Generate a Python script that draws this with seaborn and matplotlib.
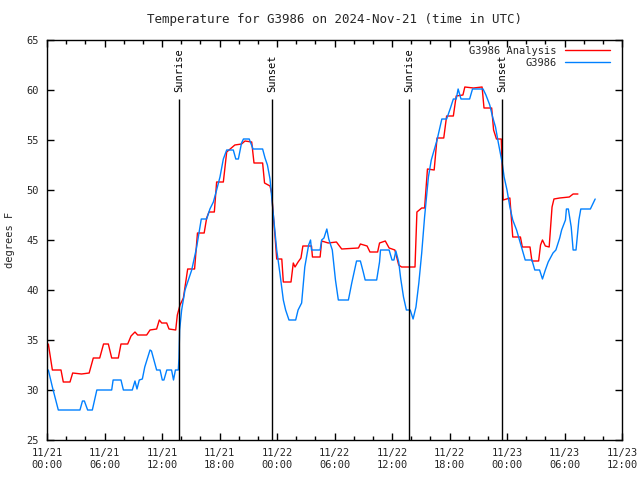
import matplotlib
matplotlib.use("Agg")
import matplotlib.pyplot as plt
import matplotlib.dates as mdates
import seaborn as sns
import pandas as pd

# hours since 2024-11-21 00:00 UTC
analysis_hours = [0.14, 0.56, 1.46, 1.7, 2.4, 2.68, 3.6, 4.4, 4.83, 5.5, 5.9, 6.4, 6.75, 7.44,
                  7.72, 8.42, 8.77, 9.18, 9.46, 10.4, 10.75, 11.44, 11.72, 11.97, 12.49, 12.73,
                  13.43, 13.6, 13.88, 14.23, 14.68, 15.4, 15.7, 16.4, 16.66, 16.9, 17.46, 17.7,
                  18.4, 18.75, 19.6, 20.3, 20.66, 21.36, 21.6, 22.5, 22.7, 23.27, 23.44, 23.6,
                  23.8, 23.97, 24.5, 24.66, 25.46, 25.7, 25.88, 26.2, 26.5, 26.7, 27.6, 27.7,
                  28.5, 28.66, 29.35, 30.2, 30.75, 32.5, 32.7, 33.4, 33.7, 34.5, 34.7, 35.3,
                  35.7, 36.3, 36.7, 37.0, 38.4, 38.6, 39.1, 39.4, 39.7, 40.4, 40.7, 41.4, 41.7,
                  42.4, 42.7, 43.4, 43.6, 44.5, 45.4, 45.6, 46.4, 46.6, 46.9, 47.4, 47.6, 48.3,
                  48.6, 49.4, 49.6, 50.4, 50.6, 51.3, 51.5, 51.7, 52.0, 52.4, 52.7, 52.9, 53.5,
                  54.5, 54.9, 55.4]
analysis_temp = [34.6, 32.0, 32.0, 30.8, 30.8, 31.7, 31.6, 31.7, 33.2, 33.2, 34.6, 34.6, 33.2, 33.2,
                 34.6, 34.6, 35.4, 35.8, 35.5, 35.5, 36.0, 36.1, 37.0, 36.7, 36.7, 36.1,
                 36.0, 37.5, 38.5, 39.2, 42.1, 42.1, 45.7, 45.7, 47.2, 47.8, 47.8, 50.8,
                 50.8, 53.8, 54.5, 54.6, 54.9, 54.8, 52.7, 52.7, 50.7, 50.4, 49.7, 47.7,
                 45.3, 43.1, 43.1, 40.8, 40.8, 42.7, 42.3, 42.8, 43.2, 44.4, 44.4, 43.3,
                 43.3, 44.9, 44.7, 44.8, 44.1, 44.2, 44.6, 44.4, 43.8, 43.8, 44.7, 44.9,
                 44.2, 44.0, 42.5, 42.3, 42.3, 47.8, 48.2, 48.2, 52.1, 52.0, 55.2, 55.2, 57.4,
                 57.4, 59.4, 59.5, 60.3, 60.2, 60.3, 58.2, 58.2, 56.0, 55.1, 55.1, 49.0, 49.2,
                 45.3, 45.3, 44.3, 44.3, 42.9, 42.9, 44.5, 45.0, 44.4, 44.3, 48.3, 49.1, 49.2,
                 49.3, 49.6, 49.6]

obs_hours = [0.14, 0.56, 1.18, 3.44, 3.7, 3.9, 4.24, 4.73, 5.2, 6.75, 6.9, 7.72, 7.97, 8.9,
             9.18, 9.39, 9.63, 9.95, 10.2, 10.75, 10.9, 11.44, 11.8, 12.03, 12.2, 12.5, 13.0,
             13.2, 13.4, 13.7, 13.77, 13.84, 14.05, 14.4, 14.75, 15.1, 15.6, 16.1, 16.66,
             17.0, 17.36, 17.7, 18.05, 18.4, 18.75, 19.44, 19.7, 19.97, 20.3, 20.5, 21.1,
             21.5, 22.5, 22.75, 23.0, 23.27, 23.5, 23.7, 23.97, 24.3, 24.66, 24.9, 25.25,
             25.95, 26.2, 26.57, 26.9, 27.3, 27.5, 27.6, 28.5, 28.66, 28.9, 29.2, 29.4,
             29.77, 30.1, 30.4, 31.45, 31.8, 32.3, 32.7, 33.0, 33.2, 34.4, 34.7, 34.8, 35.7,
             36.0, 36.2, 36.4, 36.7, 36.9, 37.2, 37.5, 37.9, 38.2, 38.5, 38.8, 39.1, 39.4,
             39.8, 40.1, 40.7, 41.2, 41.7, 42.1, 42.4, 42.7, 42.9, 43.2, 44.1, 44.4, 45.5,
             45.8, 46.2, 46.5, 46.8, 47.1, 47.5, 47.7, 48.0, 48.3, 48.6, 49.0, 49.3, 49.6,
             49.9, 50.6, 50.9, 51.4, 51.7, 52.0, 52.3, 52.8, 53.1, 53.5, 53.7, 54.1, 54.2,
             54.4, 54.7, 54.9, 55.2, 55.5, 55.7, 56.7, 57.2]
obs_temp = [32.0, 30.3, 28.0, 28.0, 28.9, 28.9, 28.0, 28.0, 30.0, 30.0, 31.0, 31.0, 30.0, 30.0,
            30.9, 30.1, 31.0, 31.1, 32.3, 34.0, 33.9, 32.0, 32.0, 31.0, 31.0, 32.0, 32.0,
            31.0, 32.0, 32.0, 33.2, 36.0, 38.0, 40.0, 41.0, 42.0, 44.2, 47.1, 47.1,
            48.1, 48.8, 50.0, 51.3, 53.1, 54.0, 54.0, 53.1, 53.1, 54.7, 55.1, 55.1,
            54.1, 54.1, 53.2, 52.5, 51.1, 48.7, 46.7, 44.0, 41.7, 39.0, 38.0, 37.0,
            37.0, 38.0, 38.7, 42.3, 44.5, 45.0, 44.0, 44.0, 45.0, 45.2, 46.1, 45.1,
            44.0, 41.0, 39.0, 39.0, 40.7, 42.9, 42.9, 41.8, 41.0, 41.0, 42.8, 44.0, 44.0,
            43.0, 43.0, 43.9, 42.8, 41.2, 39.3, 38.0, 38.0, 37.1, 38.3, 40.7, 43.7, 47.3,
            51.3, 53.0, 55.0, 57.1, 57.1, 58.2, 59.1, 59.1, 60.1, 59.1, 59.1, 60.1, 60.1,
            59.5, 58.5, 57.3, 56.3, 54.7, 52.7, 51.3, 50.0, 48.3, 47.0, 46.0, 45.0, 44.0,
            43.0, 43.0, 42.0, 42.0, 41.1, 42.0, 42.8, 43.7, 44.0, 45.2, 46.0, 47.0, 48.1,
            48.1, 46.3, 44.0, 44.0, 47.0, 48.1, 48.1, 49.1]

event_hours = [13.8, 23.52, 37.8, 47.5]
event_labels = ["Sunrise", "Sunset", "Sunrise", "Sunset"]

base = pd.Timestamp("2024-11-21 00:00")


def to_time(hours):
    return base + pd.to_timedelta(hours, unit="h")


df_analysis = pd.DataFrame({"time": to_time(analysis_hours), "temp": analysis_temp})
df_obs = pd.DataFrame({"time": to_time(obs_hours), "temp": obs_temp})

sns.set_style("ticks")
plt.rcParams["font.family"] = ["DejaVu Sans Mono"]
plt.rcParams["font.size"] = 7.5

fig = plt.figure(figsize=(6.4, 4.8), dpi=100)
ax = fig.add_axes([47 / 640, 40 / 480, 575 / 640, 400 / 480])

sns.lineplot(data=df_analysis, x="time", y="temp", color="#ff0000", lw=1,
             label="G3986 Analysis", ax=ax)
sns.lineplot(data=df_obs, x="time", y="temp", color="#0080ff", lw=1,
             label="G3986", ax=ax)

for h, lab in zip(event_hours, event_labels):
    t = to_time(h)
    ax.vlines(t, 25, 59.1, color="black", lw=1)
    ax.text(t, 59.8, lab, rotation=90, ha="center", va="bottom", color="black")

ax.set_xlim(base, base + pd.Timedelta(hours=60))
ax.set_ylim(25, 65)
ax.set_yticks(range(25, 66, 5))
ax.xaxis.set_major_locator(mdates.HourLocator(byhour=[0, 6, 12, 18]))
ax.xaxis.set_minor_locator(mdates.HourLocator(interval=2))
ax.xaxis.set_major_formatter(mdates.DateFormatter("%m/%d\n%H:%M"))

ax.tick_params(which="both", direction="in", top=True, right=True, width=1, color="black")
ax.tick_params(which="major", length=5, pad=6)
ax.tick_params(which="minor", length=3)
for s in ax.spines.values():
    s.set_linewidth(1)
    s.set_color("black")

ax.set_xlabel("")
ax.set_ylabel("degrees F", labelpad=8)
ax.set_title("Temperature for G3986 on 2024-Nov-21 (time in UTC)", pad=12)

ax.legend(loc="upper right", bbox_to_anchor=(0.993, 1.006), frameon=False,
          markerfirst=False, handlelength=4.3, borderpad=0.3,
          labelspacing=0.2, handletextpad=0.8)

fig.savefig("out.png", dpi=100)
